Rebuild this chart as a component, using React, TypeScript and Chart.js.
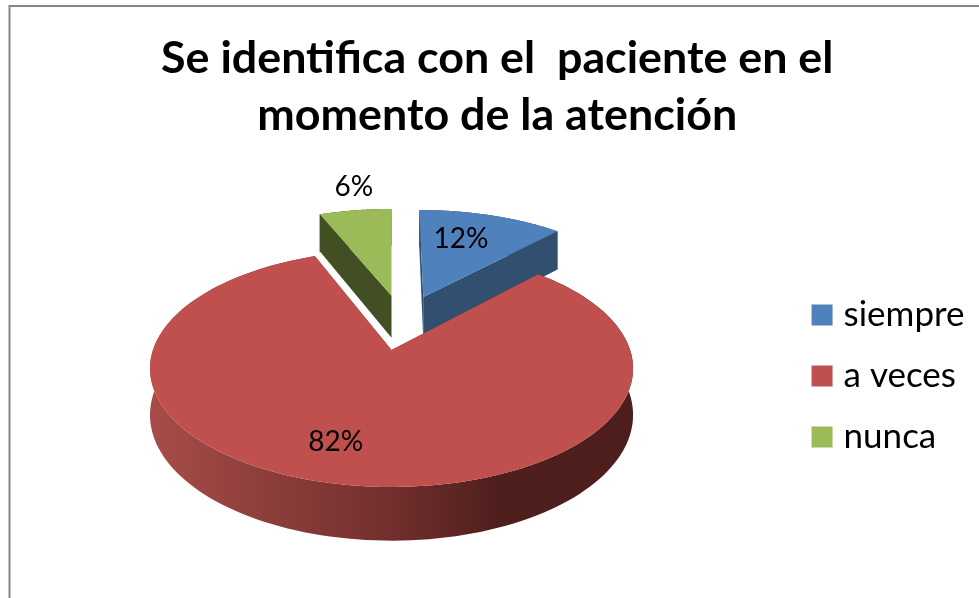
import React, { useEffect, useRef } from "react";
import { Chart, registerables } from "chart.js";

Chart.register(...registerables);

const categories = ["siempre", "a veces", "nunca"];
const values = [12, 82, 6];
const percentLabels = ["12%", "82%", "6%"];
const titleLines = ["Se identifica con el  paciente en el", "momento de la atención"];
const colors = ["#4F81BD", "#C0504D", "#9BBB59"];
const sideColors = ["#31506F", "#8A3A37", "#414F22"];
const labelRadius = [0.67, 0.738, 1.32];
const labelAngleShift = [-4.3, 5.6, 2];
const drawOrder = [0, 2, 1];

const EXPLODE = 0.258;
const PERSPECTIVE = 0.156;
const TILT = 0.4845;
const DEPTH = 0.19;
const RADIUS_SCALE = 1.211;
const DX = -14.5;
const DY = -26;

const pie3d = {
  id: "pie3d",
  beforeDraw(chart: any) {
    const { ctx, width, height } = chart;
    ctx.save();
    ctx.fillStyle = "#fff";
    ctx.fillRect(0, 0, width, height);
    ctx.strokeStyle = "#868686";
    ctx.lineWidth = 2;
    ctx.beginPath();
    ctx.moveTo(9.5, height);
    ctx.lineTo(9.5, 6);
    ctx.lineTo(width, 6);
    ctx.stroke();
    ctx.restore();
  },
  beforeDatasetsDraw(chart: any) {
    const { ctx } = chart;
    const arcs = chart.getDatasetMeta(0).data;
    const mid = (a: any) => (a.startAngle + a.endAngle) / 2;
    const big = arcs[1];
    const R = big.outerRadius * RADIUS_SCALE;
    const cx = big.x + DX;
    const cy = big.y + DY;
    const proj = (u: number, v: number, drop = 0) => {
      const s = 1 / (1 + PERSPECTIVE * v);
      return [cx + R * u * s, cy - R * TILT * v * s + R * DEPTH * s * drop];
    };
    const apexOf = (a: any) => [
      EXPLODE * (Math.cos(mid(a)) - Math.cos(mid(big))),
      -EXPLODE * (Math.sin(mid(a)) - Math.sin(mid(big))),
    ];
    const rim = (a: any, drop: number, rev = false) => {
      const [au, av] = apexOf(a);
      const pts: number[][] = [];
      const n = 160;
      for (let i = 0; i <= n; i++) {
        const t = a.startAngle + ((a.endAngle - a.startAngle) * i) / n;
        pts.push(proj(au + Math.cos(t), av - Math.sin(t), drop));
      }
      return rev ? pts.reverse() : pts;
    };
    const fill = (pts: number[][], style: any) => {
      ctx.beginPath();
      pts.forEach((p, i) => (i ? ctx.lineTo(p[0], p[1]) : ctx.moveTo(p[0], p[1])));
      ctx.closePath();
      ctx.fillStyle = style;
      ctx.fill();
    };
    ctx.save();
    const grad = ctx.createLinearGradient(cx - R, 0, cx + R, 0);
    grad.addColorStop(0, "#A64C48");
    grad.addColorStop(0.5, "#722F2D");
    grad.addColorStop(0.72, "#4F1F1D");
    grad.addColorStop(1, "#4D1E1B");
    drawOrder.forEach((i) => {
      const a = arcs[i];
      const [au, av] = apexOf(a);
      const side = i === 1 ? grad : sideColors[i];
      const top0 = proj(au, av, 0);
      const bot0 = proj(au, av, 1);
      const first = rim(a, 0)[0];
      const last = rim(a, 0)[160];
      fill([top0, first, rim(a, 1)[0], bot0], side);
      fill([top0, last, rim(a, 1)[160], bot0], side);
      fill([...rim(a, 0), ...rim(a, 1, true)], side);
      fill([top0, ...rim(a, 0)], colors[i]);
    });
    ctx.fillStyle = "#000";
    ctx.font = "28px Lato";
    ctx.textAlign = "center";
    ctx.textBaseline = "middle";
    arcs.forEach((a: any, i: number) => {
      const [au, av] = apexOf(a);
      const m = mid(a) + (labelAngleShift[i] * Math.PI) / 180;
      const p = proj(au + labelRadius[i] * Math.cos(m), av - labelRadius[i] * Math.sin(m));
      ctx.fillText(percentLabels[i], p[0], p[1]);
    });
    ctx.restore();
    return false;
  },
};

export default function App() {
  const ref = useRef<HTMLCanvasElement>(null);
  useEffect(() => {
    document.body.style.margin = "0";
    const chart: any = new Chart(ref.current!, {
      type: "pie",
      data: {
        labels: categories,
        datasets: [{ data: values, backgroundColor: colors, borderWidth: 0, offset: 50 }],
      },
      options: {
        responsive: false,
        animation: false,
        layout: { padding: { left: 20, right: 4.5, top: 0, bottom: 0 } },
        plugins: {
          tooltip: { enabled: false },
          title: {
            display: true,
            text: titleLines,
            color: "#000",
            font: { family: "Lato", weight: "bold", size: 44.8, lineHeight: 1.272 },
            padding: { top: 30, bottom: 10 },
          },
          legend: {
            position: "right",
            fullSize: false,
            labels: {
              color: "#000",
              font: { family: "Lato", size: 35 },
              usePointStyle: true,
              pointStyle: "rect",
              boxWidth: 8,
              boxHeight: 21,
              padding: 26,
            },
          },
        },
      },
      plugins: [pie3d],
    });
    return () => chart.destroy();
  }, []);
  return <canvas ref={ref} width={979} height={598} style={{ display: "block", width: 979, height: 598 }} />;
}
